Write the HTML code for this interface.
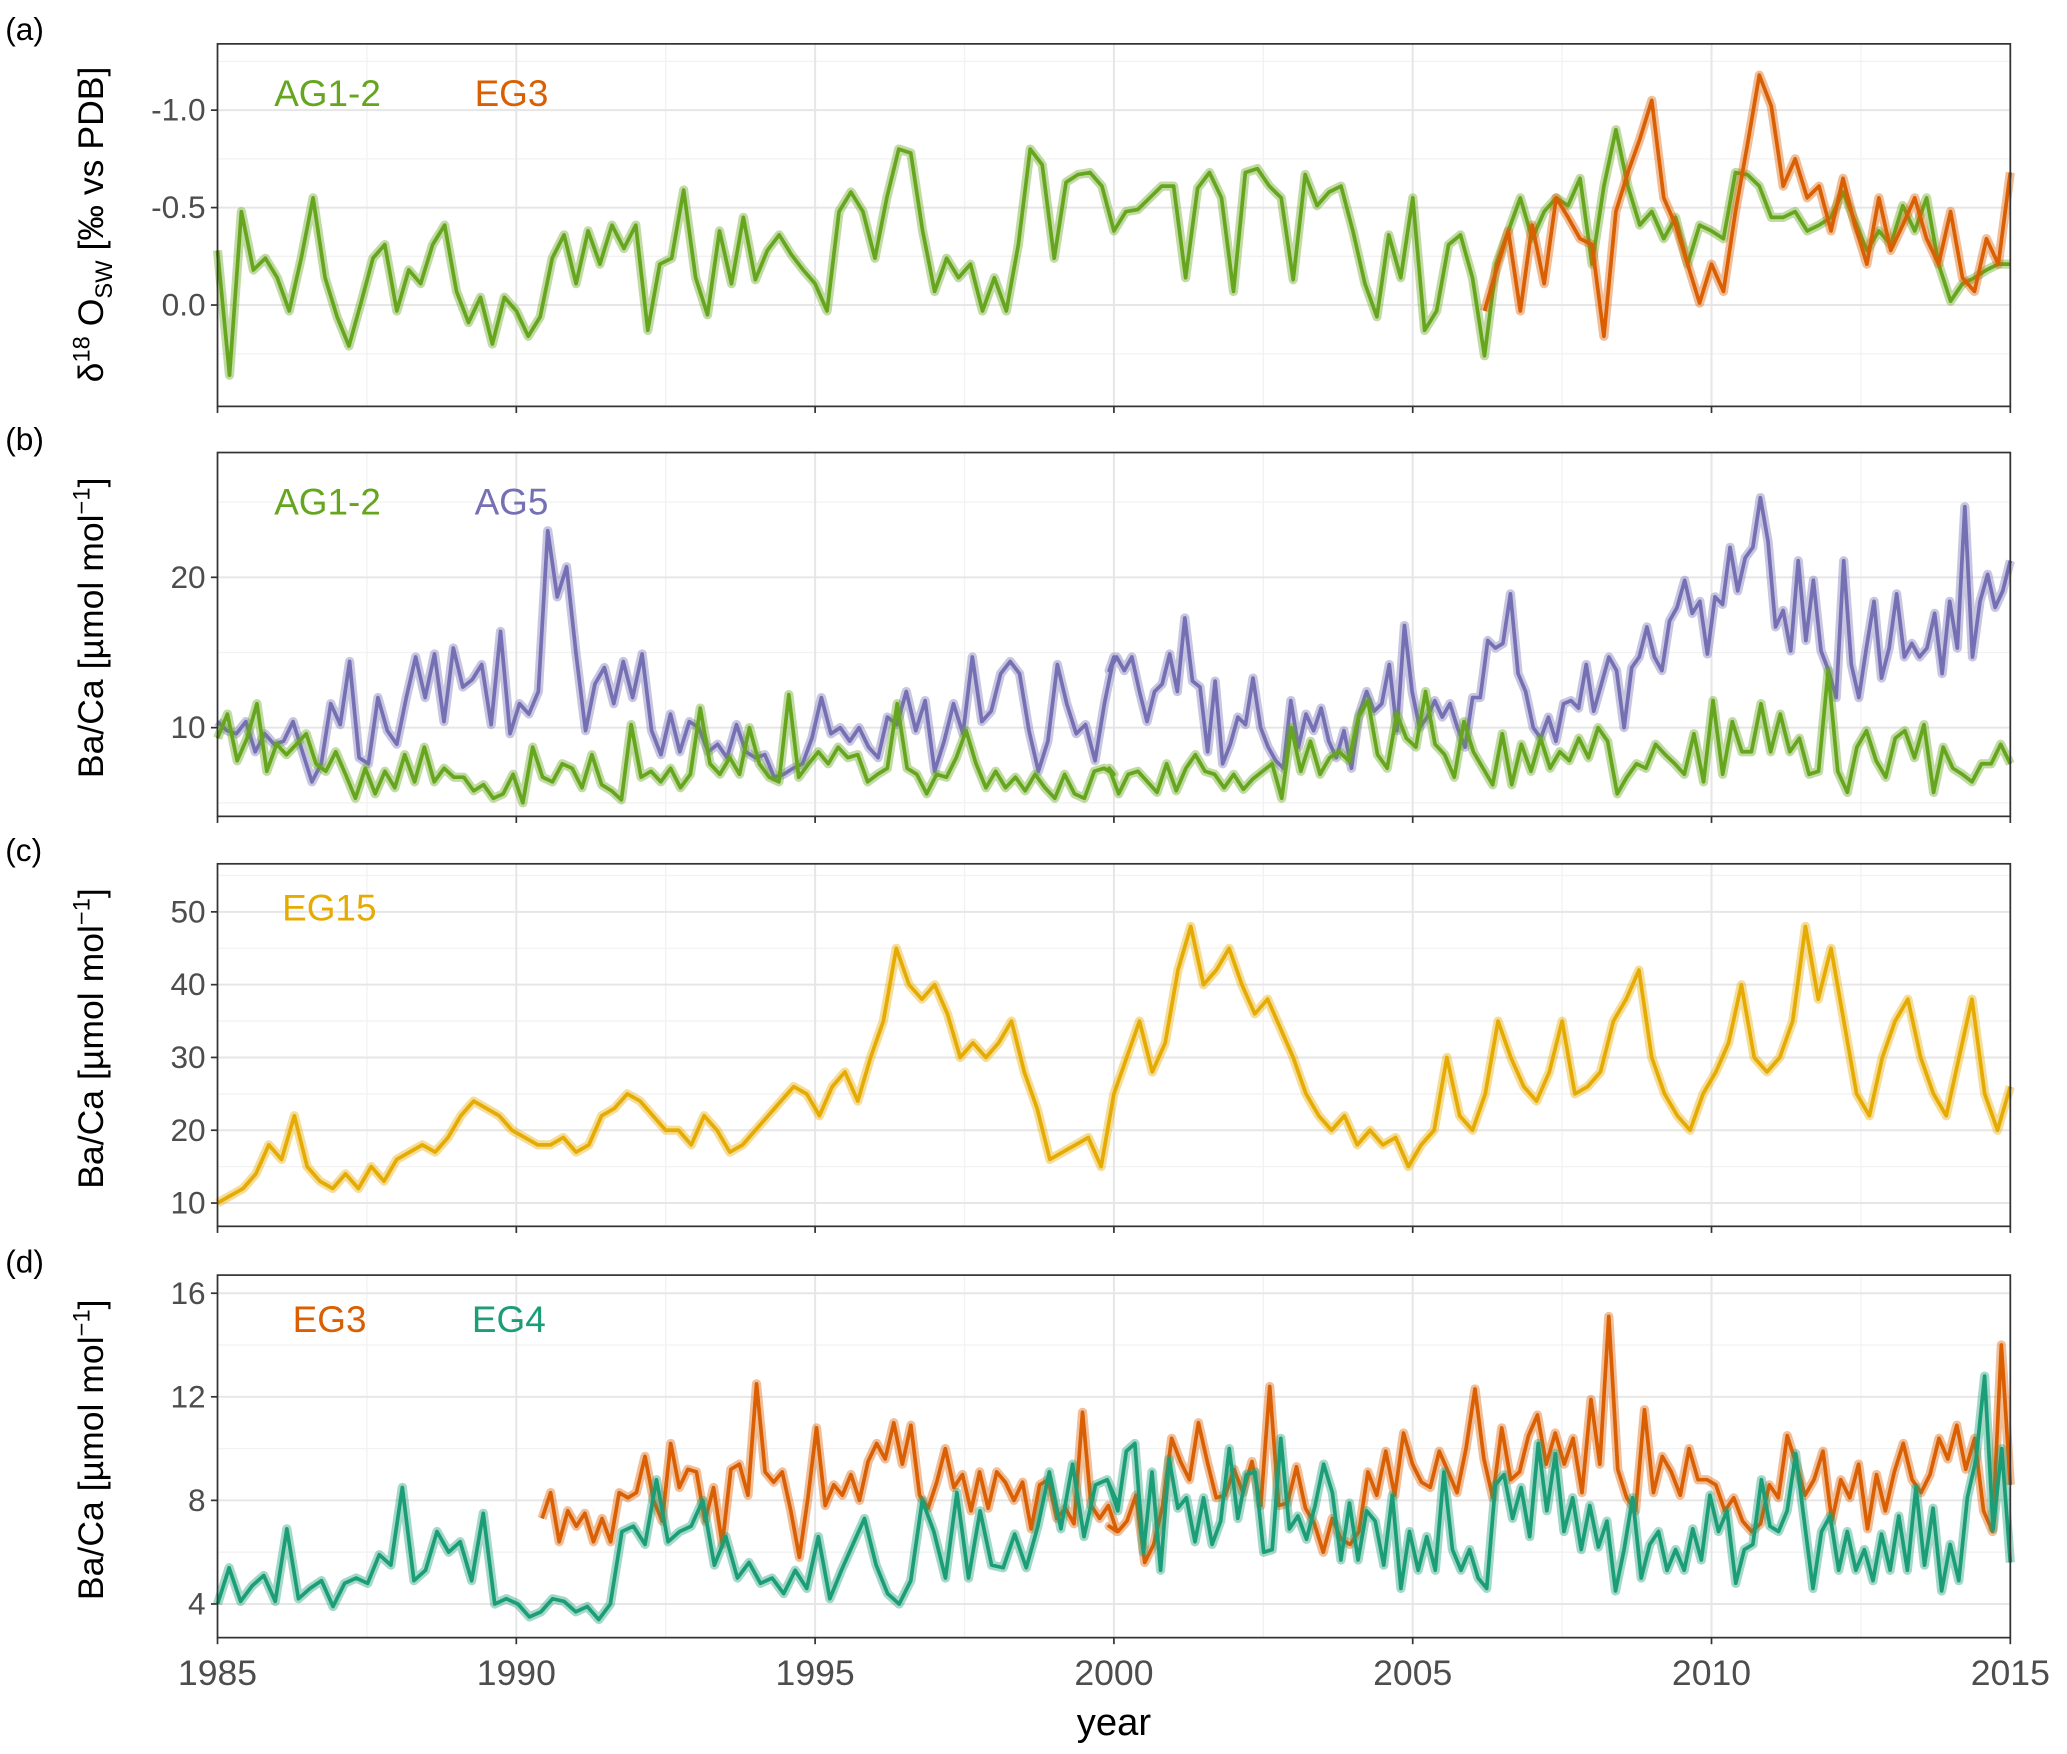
<!DOCTYPE html>
<html><head><meta charset="utf-8"><style>
html,body{margin:0;padding:0;background:#fff;}
svg{display:block;font-family:"Liberation Sans",sans-serif;}
</style></head><body>
<svg id="chart" width="2067" height="1754" viewBox="0 0 1568 1330" xmlns="http://www.w3.org/2000/svg"></svg>
<script>
// ---- data ----
const xTicks = [1985,1990,1995,2000,2005,2010,2015];
const aTicks = [-1.0,-0.5,0.0];
const aTickLabels = ["-1.0","-0.5","0.0"];
const bTicks = [10,20];
const cTicks = [10,20,30,40,50];
const dTicks = [4,8,12,16];
const aAG12Span = [1985, 2015];
const aAG12 = [-0.28,0.36,-0.48,-0.18,-0.24,-0.14,0.03,-0.24,-0.55,-0.14,0.06,0.21,-0.01,-0.24,-0.31,0.03,-0.18,-0.11,-0.31,-0.41,-0.07,0.09,-0.04,0.2,-0.04,0.03,0.16,0.06,-0.24,-0.36,-0.11,-0.38,-0.21,-0.41,-0.29,-0.41,0.13,-0.21,-0.24,-0.59,-0.14,0.05,-0.38,-0.11,-0.45,-0.13,-0.28,-0.36,-0.26,-0.18,-0.11,0.03,-0.48,-0.58,-0.48,-0.24,-0.55,-0.8,-0.78,-0.38,-0.07,-0.24,-0.14,-0.21,0.03,-0.14,0.03,-0.31,-0.8,-0.72,-0.24,-0.63,-0.67,-0.68,-0.61,-0.38,-0.48,-0.49,-0.55,-0.61,-0.61,-0.14,-0.6,-0.68,-0.55,-0.07,-0.68,-0.7,-0.61,-0.55,-0.13,-0.67,-0.51,-0.58,-0.61,-0.38,-0.11,0.06,-0.36,-0.14,-0.55,0.13,0.03,-0.31,-0.36,-0.14,0.26,-0.21,-0.38,-0.55,-0.34,-0.48,-0.55,-0.51,-0.65,-0.21,-0.61,-0.9,-0.61,-0.41,-0.48,-0.34,-0.45,-0.21,-0.41,-0.38,-0.34,-0.68,-0.67,-0.61,-0.45,-0.45,-0.48,-0.38,-0.41,-0.45,-0.58,-0.43,-0.28,-0.38,-0.31,-0.51,-0.38,-0.55,-0.21,-0.02,-0.11,-0.14,-0.18,-0.21,-0.21];
const aEG3Span = [2006.2, 2015];
const aEG3 = [0.03,-0.18,-0.38,0.03,-0.41,-0.11,-0.55,-0.45,-0.34,-0.31,0.16,-0.48,-0.68,-0.85,-1.05,-0.55,-0.41,-0.21,-0.01,-0.21,-0.07,-0.48,-0.82,-1.18,-1.02,-0.61,-0.75,-0.55,-0.61,-0.38,-0.65,-0.41,-0.21,-0.55,-0.28,-0.41,-0.55,-0.34,-0.21,-0.48,-0.14,-0.07,-0.34,-0.21,-0.68];
const bAG5Part1Span = [1985, 2000.0];
const bAG5Part1 = [10.4,9.8,9.6,10.4,8.4,9.6,8.9,9.1,10.4,8.4,6.4,7.6,11.6,10.2,14.4,8.0,7.6,12.0,9.8,8.9,12.0,14.7,12.0,14.9,10.4,15.3,12.7,13.2,14.2,10.2,16.4,9.6,11.6,10.9,12.4,23.1,18.7,20.7,14.9,9.8,12.9,14.0,11.6,14.4,12.0,14.9,9.8,8.2,10.9,8.4,10.4,10.0,8.4,8.9,8.0,10.2,8.4,8.0,8.2,6.7,6.9,7.3,7.6,9.3,12.0,9.6,10.0,9.1,10.0,8.7,8.0,10.7,10.2,12.4,9.8,11.8,7.1,9.1,11.6,9.6,14.7,10.4,11.1,13.6,14.4,13.6,9.8,7.1,9.1,14.2,11.6,9.6,10.2,7.8,11.6,14.7];
const bAG5Part2Span = [1999.92, 2015];
const bAG5Part2 = [13.8,14.7,13.8,14.7,12.4,10.4,12.4,12.9,14.9,12.4,17.3,13.1,12.7,8.4,13.1,7.6,8.9,10.7,10.2,13.3,10.0,8.7,7.8,7.3,11.8,8.7,10.9,9.8,11.3,9.1,8.0,9.8,7.3,10.9,12.4,11.1,11.6,14.2,9.8,16.8,12.4,10.0,10.7,11.8,10.7,11.6,10.0,8.7,12.0,12.0,15.8,15.3,15.6,18.9,13.6,12.4,10.0,9.3,10.7,9.1,11.6,11.8,11.3,14.2,11.1,12.9,14.7,13.8,10.0,14.0,14.7,16.7,14.7,13.8,17.1,18.0,19.8,17.6,18.4,14.9,18.7,18.2,22.0,19.1,21.3,22.0,25.3,22.4,16.7,17.8,15.1,21.1,15.8,19.8,15.1,13.8,12.0,21.1,14.2,12.0,15.3,18.4,13.3,15.3,18.9,14.7,15.6,14.7,15.3,17.6,13.6,18.4,15.3,24.7,14.7,18.4,20.2,18.0,19.1,21.1];
const bAG12Part1Span = [1985, 2000.0];
const bAG12Part1 = [9.3,10.9,7.8,9.3,11.6,7.1,8.9,8.2,8.9,9.6,7.6,7.1,8.4,6.9,5.3,7.3,5.6,7.1,6.0,8.2,6.4,8.7,6.4,7.3,6.7,6.7,5.8,6.2,5.3,5.6,6.9,5.0,8.7,6.7,6.4,7.6,7.3,6.0,8.2,6.2,5.8,5.2,10.2,6.7,7.1,6.4,7.3,6.0,6.9,11.3,7.6,6.9,8.0,6.9,10.0,7.6,6.7,6.4,12.2,6.7,7.6,8.4,7.6,8.7,8.0,8.2,6.4,6.9,7.3,11.6,7.3,6.9,5.6,6.9,6.7,8.0,9.8,7.6,6.0,7.1,6.0,6.7,5.8,6.9,6.0,5.3,6.9,5.6,5.3,7.1,7.3,6.9];
const bAG12Part2Span = [1999.92, 2015];
const bAG12Part2 = [7.3,5.6,6.9,7.1,6.4,5.7,7.6,5.8,7.3,8.2,7.1,6.9,6.0,6.9,5.9,6.6,7.1,7.6,5.3,10.0,7.1,9.1,6.9,8.0,8.4,7.8,10.7,11.8,8.2,7.3,10.9,9.3,8.7,12.4,8.9,8.2,6.7,10.4,8.4,7.3,6.2,9.6,6.2,8.9,7.1,9.3,7.3,8.4,7.8,9.3,8.0,10.0,9.1,5.6,6.7,7.6,7.3,8.9,8.2,7.6,6.9,9.6,6.4,11.8,6.9,10.4,8.4,8.4,11.6,8.4,10.9,8.4,9.3,6.9,7.1,13.8,7.1,5.7,8.7,9.8,7.8,6.7,9.3,9.8,8.0,10.2,5.7,8.7,7.3,6.9,6.4,7.6,7.6,8.9,7.6];
const cEG15Span = [1985, 2015];
const cEG15 = [10,11,12,14,18,16,22,15,13,12,14,12,15,13,16,17,18,17,19,22,24,23,22,20,19,18,18,19,17,18,22,23,25,24,22,20,20,18,22,20,17,18,20,22,24,26,25,22,26,28,24,30,35,45,40,38,40,36,30,32,30,32,35,28,23,16,17,18,19,15,25,30,35,28,32,42,48,40,42,45,40,36,38,34,30,25,22,20,22,18,20,18,19,15,18,20,30,22,20,25,35,30,26,24,28,35,25,26,28,35,38,42,30,25,22,20,25,28,32,40,30,28,30,35,48,38,45,35,25,22,30,35,38,30,25,22,30,38,25,20,26];
const dEG3Part1Span = [1990.43, 2000.05];
const dEG3Part1 = [7.3,8.3,6.4,7.6,7.0,7.5,6.4,7.3,6.4,8.3,8.1,8.3,9.7,8.0,7.2,10.2,8.5,9.2,9.1,7.2,8.5,6.3,9.2,9.4,8.2,12.5,9.1,8.7,9.1,7.6,5.8,8.1,10.8,7.8,8.6,8.2,9.0,8.0,9.5,10.2,9.6,11.0,9.4,10.9,8.2,7.7,8.7,10.0,8.5,9.0,7.6,9.1,7.7,9.1,8.7,8.0,8.7,6.9,8.6,8.8,7.3,7.7,7.1,11.4,7.8,7.3,7.8,6.8];
const dEG3Part2Span = [1999.92, 2015];
const dEG3Part2 = [7.0,6.8,7.2,8.2,5.6,6.3,7.8,10.4,9.5,8.8,11.0,9.5,8.1,8.2,9.2,8.3,9.5,7.8,12.4,7.8,7.9,9.3,7.7,7.1,6.0,7.3,6.5,6.3,6.8,9.1,8.2,9.9,8.2,10.6,9.4,8.7,8.5,9.9,9.1,8.3,10.0,12.3,9.6,8.1,10.8,8.8,9.1,10.5,11.3,9.4,10.6,9.4,10.4,8.3,11.9,9.4,15.1,9.2,8.1,7.6,11.5,8.3,9.7,9.1,8.2,10.0,8.8,8.8,8.6,7.6,8.1,7.2,6.8,7.1,8.6,8.1,10.5,9.4,8.2,8.8,9.9,7.2,8.8,8.1,9.4,6.9,9.0,7.6,9.1,10.2,8.8,8.3,9.0,10.4,9.6,10.9,9.2,10.4,7.6,6.8,14.0,8.6];
const dEG4Part1Span = [1985, 2000.08];
const dEG4Part1 = [4.0,5.4,4.1,4.7,5.1,4.1,6.9,4.2,4.6,4.9,3.9,4.8,5.0,4.8,5.9,5.5,8.5,4.9,5.3,6.8,6.0,6.4,4.9,7.5,4.0,4.2,4.0,3.5,3.7,4.2,4.1,3.7,3.9,3.4,4.0,6.8,7.0,6.3,8.8,6.4,6.8,7.0,8.0,5.5,6.6,5.0,5.6,4.8,5.0,4.4,5.3,4.6,6.6,4.2,5.3,6.3,7.3,5.5,4.4,4.0,4.9,8.0,6.8,5.0,8.3,5.0,7.6,5.5,5.4,6.7,5.4,7.0,9.1,6.9,9.4,6.6,8.6,8.8,7.8];
const dEG4Part2Span = [1999.92, 2015];
const dEG4Part2 = [8.6,7.6,9.9,10.2,6.0,9.1,5.3,9.6,7.7,8.1,6.4,8.1,6.3,7.2,10.0,7.3,9.0,9.1,6.0,6.1,10.4,6.9,7.4,6.5,7.8,9.4,8.3,5.7,7.9,5.7,7.6,7.2,5.5,8.2,4.6,6.8,5.3,6.6,5.3,9.1,6.1,5.3,6.1,5.0,4.6,8.6,9.0,7.3,8.5,6.6,10.2,7.6,9.8,6.8,8.1,6.1,7.8,6.2,7.2,4.5,6.1,8.1,5.0,6.3,6.8,5.3,6.1,5.3,6.9,5.7,8.2,6.8,7.6,4.8,6.1,6.3,8.8,7.0,6.8,7.6,9.8,7.2,4.6,6.8,7.4,5.3,6.8,5.3,6.1,4.9,6.7,5.3,7.4,5.3,8.5,5.5,7.7,4.5,6.3,4.9,8.1,9.6,12.8,6.9,10.0,5.6];

// ---- layout ----
const NS="http://www.w3.org/2000/svg";
const svg=document.getElementById('chart');
const X0=165,X1=1525;
const xs=yr=>X0+(yr-1985)/(30)*(X1-X0);
function mk(tag,attrs,parent){const e=document.createElementNS(NS,tag);for(const k in attrs)e.setAttribute(k,attrs[k]);(parent||svg).appendChild(e);return e;}
const panels=[
 {id:'a',top:33,bot:308,lo:0.52,hi:-1.34,ticks:aTicks,labels:aTickLabels},
 {id:'b',top:343,bot:619,lo:4.1,hi:28.3,ticks:bTicks,labels:bTicks.map(String)},
 {id:'c',top:655,bot:930,lo:6.8,hi:56.6,ticks:cTicks,labels:cTicks.map(String)},
 {id:'d',top:967,bot:1242,lo:2.7,hi:16.7,ticks:dTicks,labels:dTicks.map(String)}
];
panels.forEach(p=>{p.y=v=>p.bot-(v-p.lo)/(p.hi-p.lo)*(p.bot-p.top);});
function drawPanel(p){
 const g=mk('g',{});
 
 
 for(let yr=1987.5;yr<2015;yr+=5){mk('line',{x1:xs(yr),x2:xs(yr),y1:p.top,y2:p.bot,stroke:'#f2f2f2','stroke-width':1},g);}
 for(let i=0;i<p.ticks.length+1;i++){
   const step=p.ticks.length>1?p.ticks[1]-p.ticks[0]:10;
   const v=p.ticks[0]+(i-0.5)*step;
   const yy=p.y(v); if(yy>p.top&&yy<p.bot) mk('line',{x1:X0,x2:X1,y1:yy,y2:yy,stroke:'#f2f2f2','stroke-width':1},g);
 }
 xTicks.forEach(yr=>{mk('line',{x1:xs(yr),x2:xs(yr),y1:p.top,y2:p.bot,stroke:'#e6e6e6','stroke-width':1.5},g);
   mk('line',{x1:xs(yr),x2:xs(yr),y1:p.bot,y2:p.bot+5,stroke:'#333','stroke-width':1.3},g);});
 p.ticks.forEach((v,i)=>{const yy=p.y(v);
   mk('line',{x1:X0,x2:X1,y1:yy,y2:yy,stroke:'#e6e6e6','stroke-width':1.5},g);
   mk('line',{x1:X0-5,x2:X0,y1:yy,y2:yy,stroke:'#333','stroke-width':1.3},g);
   const t=mk('text',{x:X0-9,y:yy+8,'text-anchor':'end','font-size':24,fill:'#4d4d4d'},g);
   t.textContent=p.labels[i];
   
   
 });
}
function drawSeries(p,segments,color,name){
 const pts=[];
 segments.forEach(([span,vals])=>{
   const n=vals.length, st=(span[1]-span[0])/(n-1);
   vals.forEach((v,i)=>pts.push(xs(span[0]+i*st).toFixed(1)+','+p.y(v).toFixed(1)));
 });
 const ps=pts.join(' ');
 const rib=mk('polyline',{points:ps,fill:'none',stroke:color,'stroke-opacity':0.4,'stroke-width':7,'stroke-linejoin':'round'});
 
 
 const ln=mk('polyline',{points:ps,fill:'none',stroke:color,'stroke-width':2.8,'stroke-linejoin':'round'});
 
 
}
function label(x,y,txt,color,name,size){
 const t=mk('text',{x:x,y:y,'font-size':size||28,fill:color});
 t.textContent=txt;
 
 
 return t;
}
const GREEN='#66a61e',ORANGE='#d95f02',PURPLE='#7570b3',YELLOW='#e6ab02',TEAL='#1b9e77';
panels.forEach(drawPanel);
drawSeries(panels[0],[[aAG12Span,aAG12]],GREEN,'a-ag1-2');
drawSeries(panels[0],[[aEG3Span,aEG3]],ORANGE,'a-eg3');
drawSeries(panels[1],[[bAG5Part1Span,bAG5Part1],[bAG5Part2Span,bAG5Part2]],PURPLE,'b-ag5');
drawSeries(panels[1],[[bAG12Part1Span,bAG12Part1],[bAG12Part2Span,bAG12Part2]],GREEN,'b-ag1-2');
drawSeries(panels[2],[[cEG15Span,cEG15]],YELLOW,'c-eg15');
drawSeries(panels[3],[[dEG3Part1Span,dEG3Part1],[dEG3Part2Span,dEG3Part2]],ORANGE,'d-eg3');
drawSeries(panels[3],[[dEG4Part1Span,dEG4Part1],[dEG4Part2Span,dEG4Part2]],TEAL,'d-eg4');
panels.forEach(p=>{const r=mk('rect',{x:X0,y:p.top,width:X1-X0,height:p.bot-p.top,fill:'none',stroke:'#333','stroke-width':1.3});
 
 });
label(208,80,'AG1-2',GREEN,'legend-a-ag1-2');
label(360,80,'EG3',ORANGE,'legend-a-eg3');
label(208,390,'AG1-2',GREEN,'legend-b-ag1-2');
label(360,390,'AG5',PURPLE,'legend-b-ag5');
label(214,698,'EG15',YELLOW,'legend-c-eg15');
label(222,1010,'EG3',ORANGE,'legend-d-eg3');
label(358,1010,'EG4',TEAL,'legend-d-eg4');
[['(a)',30],['(b)',341],['(c)',653],['(d)',965]].forEach(([s,y],i)=>label(4,y,s,'#000','panel-letter-'+'abcd'[i],24));
xTicks.forEach(yr=>{const t=label(xs(yr),1278,String(yr),'#4d4d4d','x-tick-label',27);t.setAttribute('text-anchor','middle');});
const xt=label(845,1316,'year','#000','x-axis-title',29);xt.setAttribute('text-anchor','middle');
function ytitle(cy,name,html){
 const t=mk('text',{transform:`translate(78,${cy}) rotate(-90)`,'text-anchor':'middle','font-size':27,fill:'#000'});
 t.innerHTML=html;
 
 
}
ytitle(170,'y-axis-title-a','δ<tspan dy="-10" font-size="18">18</tspan><tspan dy="10"> O</tspan><tspan dy="7" font-size="18">SW</tspan><tspan dy="-7"> [‰ vs PDB]</tspan>');
['b','c','d'].forEach((id,i)=>{const p=panels[i+1];
 ytitle((p.top+p.bot)/2-5,'y-axis-title-'+id,'Ba/Ca [µmol  mol<tspan dy="-10" font-size="18">−1</tspan><tspan dy="10">]</tspan>');});
</script>
</body></html>
